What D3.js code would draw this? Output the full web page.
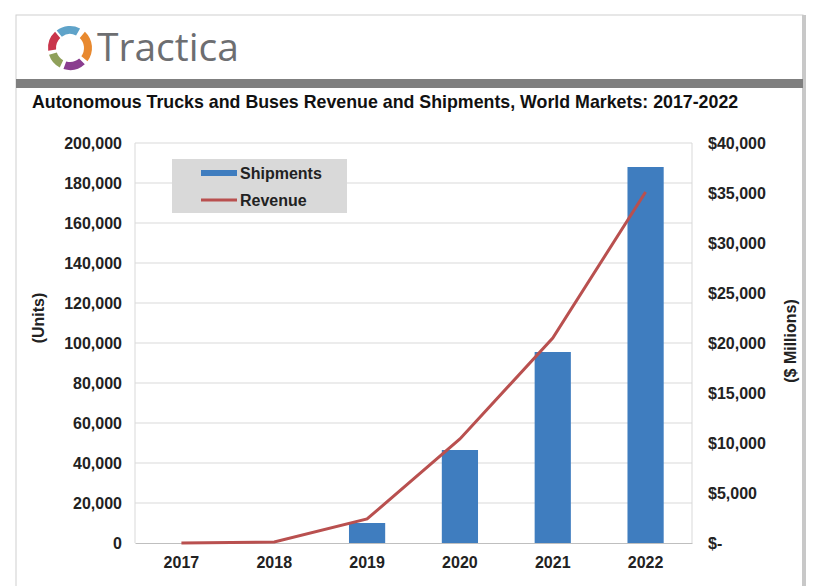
<!DOCTYPE html>
<html><head><meta charset="utf-8">
<script src="https://cdn.jsdelivr.net/npm/d3@7"></script>
<style>body{margin:0;background:#fff}svg{display:block}text{font-family:Arial,"Liberation Sans",sans-serif}</style>
</head><body>
<script>
const years = ["2017","2018","2019","2020","2021","2022"];
const shipments = [0, 0, 10000, 46500, 95500, 188000];
const revenue = [0, 100, 2400, 10400, 20500, 35100];
const unitTicks = [0,20000,40000,60000,80000,100000,120000,140000,160000,180000,200000];
const revTicks = [0,5000,10000,15000,20000,25000,30000,35000,40000];
const title = "Autonomous Trucks and Buses Revenue and Shipments, World Markets: 2017-2022";
const legendLabels = ["Shipments","Revenue"];

const W=820,H=586;
const svg=d3.select("body").append("svg").attr("width",W).attr("height",H);

// frame
svg.append("rect").attr("x",16).attr("y",15).attr("width",787).attr("height",580).attr("fill","#fff").attr("stroke","#d0d0d0");
svg.append("rect").attr("x",802).attr("y",15).attr("width",4).attr("height",580).attr("fill","#c8c8c8");
svg.append("rect").attr("x",16).attr("y",79).attr("width",787).attr("height",9).attr("fill","#7f7f7f");

// logo
const lg=svg.append("g").attr("transform","translate(70,48)");
const arc=d3.arc().innerRadius(14).outerRadius(22).padAngle(0.08);
const segs=[[-40,30,"#5fa3c9"],[40,130,"#e8892f"],[135,200,"#8a3d8f"],[205,255,"#8fa05a"],[260,320,"#c9354b"]];
segs.forEach(s=>lg.append("path").attr("d",arc({startAngle:s[0]*Math.PI/180,endAngle:s[1]*Math.PI/180})).attr("fill",s[2]));
svg.append("text").attr("x",97).attr("y",61).attr("font-size",39).attr("fill","#6d6e71")
  .style("font-family","'Open Sans',Arial,sans-serif").text("Tractica");

// title
svg.append("text").attr("x",32).attr("y",108).attr("font-size",17.8).attr("font-weight","bold").attr("fill","#111").text(title);

// scales
const x=d3.scaleBand().domain(years).range([135,692]).paddingInner(0.61).paddingOuter(0.305);
const y=d3.scaleLinear().domain([0,200000]).range([543,143]);
const y2=d3.scaleLinear().domain([0,40000]).range([543,143]);

// gridlines
svg.append("g").selectAll("line").data(unitTicks.slice(1)).join("line")
  .attr("x1",135).attr("x2",692).attr("y1",d=>y(d)).attr("y2",d=>y(d)).attr("stroke","#d9d9d9");
svg.append("line").attr("x1",135).attr("x2",135).attr("y1",143).attr("y2",543).attr("stroke","#d9d9d9");
svg.append("line").attr("x1",692).attr("x2",692).attr("y1",143).attr("y2",543).attr("stroke","#d9d9d9");

// axes
const fmt=d3.format(",");
const tickStyle=sel=>sel.attr("font-size",16).attr("font-weight","bold").attr("fill","#222").style("font-family","Arial,sans-serif");
const ax=svg.append("g").attr("transform","translate(135,0)").call(d3.axisLeft(y).tickValues(unitTicks).tickFormat(fmt).tickSize(0).tickPadding(13));
ax.select(".domain").remove();
tickStyle(ax.selectAll("text"));
const ax2=svg.append("g").attr("transform","translate(692,0)").call(d3.axisRight(y2).tickValues(revTicks).tickFormat(d=>d===0?"$-":"$"+fmt(d)).tickSize(0).tickPadding(16));
ax2.select(".domain").remove();
tickStyle(ax2.selectAll("text"));
const axb=svg.append("g").attr("transform","translate(0,543)").call(d3.axisBottom(x).tickSize(0).tickPadding(14));
axb.select(".domain").attr("stroke","#bfbfbf");
tickStyle(axb.selectAll("text"));

// axis titles
svg.append("text").attr("transform","translate(44,318) rotate(-90)").attr("text-anchor","middle").attr("font-size",16).attr("font-weight","bold").attr("fill","#222").text("(Units)");
svg.append("text").attr("transform","translate(796,341) rotate(-90)").attr("text-anchor","middle").attr("font-size",16).attr("font-weight","bold").attr("fill","#222").text("($ Millions)");

// bars
const barColor="#3f7dbf", lineColor="#b9504f";
svg.append("g").selectAll("rect").data(years.map((d,i)=>({k:d,v:shipments[i]}))).join("rect")
  .attr("x",d=>x(d.k)).attr("width",x.bandwidth()).attr("y",d=>y(d.v)).attr("height",d=>543-y(d.v)).attr("fill",barColor);

// line
const line=d3.line().x((d,i)=>x(years[i])+x.bandwidth()/2).y(d=>y2(d));
svg.append("path").datum(revenue).attr("d",line).attr("fill","none").attr("stroke",lineColor).attr("stroke-width",3);

// legend
const lgd=svg.append("g");
lgd.append("rect").attr("x",172).attr("y",159).attr("width",175).attr("height",54).attr("fill","#d9d9d9");
[barColor,lineColor].forEach((c,i)=>{
  const yy=173+i*27;
  lgd.append("line").attr("x1",201).attr("x2",237).attr("y1",yy).attr("y2",yy).attr("stroke",c).attr("stroke-width",i===0?6:3);
  lgd.append("text").attr("x",240).attr("y",yy+6).attr("font-size",16).attr("font-weight","bold").attr("fill","#222").text(legendLabels[i]);
});
</script>
</body></html>
